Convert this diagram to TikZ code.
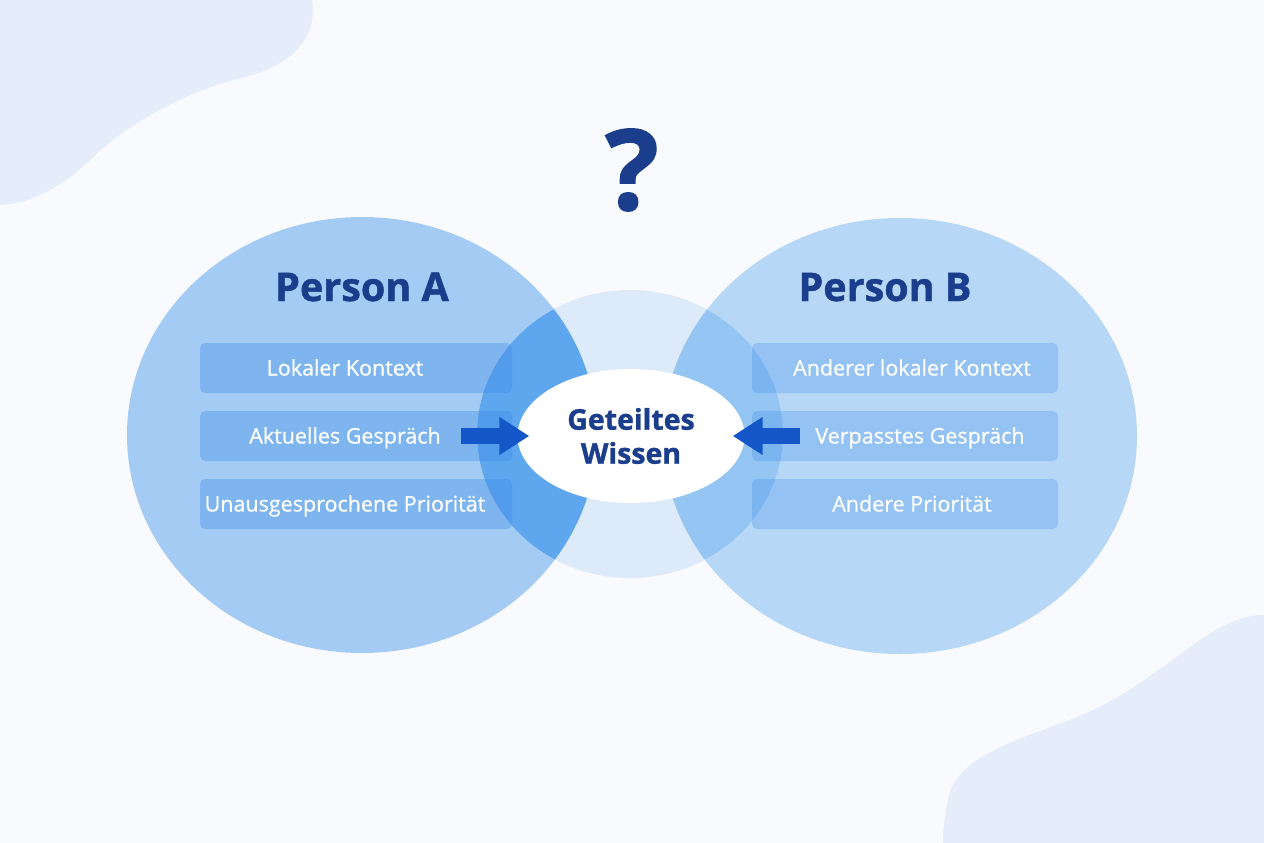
\documentclass[tikz,border=0pt]{standalone}
\usepackage{fontspec}
\setmainfont{Open Sans}
\newfontfamily\semifont{Open Sans}[FakeBold=0.6]
\newfontfamily\heavyfont{Open Sans}[BoldFeatures={FakeBold=1.2}]
\usetikzlibrary{calc,arrows.meta,shapes.geometric}
\definecolor{bgcol}{RGB}{249,250,253}
\definecolor{blobcol}{RGB}{228,237,249}
\definecolor{circA}{RGB}{164,203,244}
\definecolor{circB}{RGB}{183,215,247}
\definecolor{midcol}{RGB}{221,234,249}
\definecolor{overA}{RGB}{94,166,238}
\definecolor{overB}{RGB}{148,197,243}
\definecolor{barcol}{RGB}{60,140,230}
\definecolor{navy}{RGB}{26,62,140}
\definecolor{arrcol}{RGB}{21,86,200}

\begin{document}
\begin{tikzpicture}[x=1pt,y=-1pt,
    bar/.style={fill=barcol,fill opacity=#1,text opacity=1,rounded corners=5pt,
        minimum height=50,inner sep=0},
    bartext/.style={text=white,font=\semifont\fontsize{21.5}{26}\selectfont,
        text height=15pt,text depth=0pt,inner sep=0},
    title/.style={text=navy,font=\heavyfont\bfseries\fontsize{39.5}{46}\selectfont,
        text height=28pt,text depth=0pt,inner sep=0},
    arr/.style={arrcol,line width=16pt,-{Triangle[length=30pt,width=36pt]}}]
    \useasboundingbox (0,0) rectangle (1264,843);
    \fill[bgcol] (0,0) rectangle (1264,843);

    % background blobs
    \fill[blobcol] (0,0) -- (312,0) .. controls (318,40) and (290,68) .. (233,80)
        .. controls (190,92) and (130,120) .. (90,160)
        .. controls (60,188) and (30,204) .. (0,205) -- cycle;
    \fill[blobcol] (1264,843) -- (1264,615) .. controls (1210,615) and (1170,675) .. (1087,713)
        .. controls (1020,740) and (955,755) .. (948,800)
        .. controls (944,820) and (943,835) .. (943,843) -- cycle;

    % the three circles
    \fill[circA] (362,435) ellipse [x radius=235, y radius=218];
    \fill[circB] (900,436) ellipse [x radius=237, y radius=218];
    \fill[midcol] (630,434) ellipse [x radius=153, y radius=144];
    \begin{scope}
        \clip (630,434) ellipse [x radius=153, y radius=144];
        \fill[overA] (362,435) ellipse [x radius=235, y radius=218];
        \fill[overB] (900,436) ellipse [x radius=237, y radius=218];
    \end{scope}

    \node[title] (personA) at (362,287) {Person A};
    \node[title] (personB) at (885,287) {Person B};

    % bars of person A
    \node[bar=0.35,minimum width=312] (barA1) at (356,368) {};
    \node[bar=0.35,minimum width=312] (barA2) at (356,436) {};
    \node[bar=0.35,minimum width=312] (barA3) at (356,504) {};
    \node[bartext] (lokal) at (345,368) {Lokaler Kontext};
    \node[bartext] (aktuell) at (345,436) {Aktuelles Gespräch};
    \node[bartext] (prioA) at (345,504) {Unausgesprochene Priorität};

    % bars of person B
    \node[bar=0.28,minimum width=306] (barB1) at (905,368) {};
    \node[bar=0.28,minimum width=306] (barB2) at (905,436) {};
    \node[bar=0.28,minimum width=306] (barB3) at (905,504) {};
    \node[bartext] (anderlokal) at (912,368) {Anderer lokaler Kontext};
    \node[bartext] (verpasst) at (920,436) {Verpasstes Gespräch};
    \node[bartext] (prioB) at (912,504) {Andere Priorität};

    \node[ellipse,fill=white,minimum width=227,minimum height=134,inner sep=0,
        text=navy,font=\heavyfont\bfseries\fontsize{28.5}{34}\selectfont,align=center]
        (wissen) at (631,436) {Geteiltes\\Wissen};

    \coordinate (tailA) at ($(aktuell.east)+(20,0)$);
    \coordinate (tailB) at ($(verpasst.west)+(-15,0)$);
    \draw[arr] (tailA) -- ($(wissen.west)+(12,0)$);
    \draw[arr] (tailB) -- ($(wissen.east)+(-12,0)$);

    \node[text=navy,font=\heavyfont\bfseries\fontsize{112}{120}\selectfont,inner sep=0] (frage) at (632,170) {?};
\end{tikzpicture}
\end{document}
